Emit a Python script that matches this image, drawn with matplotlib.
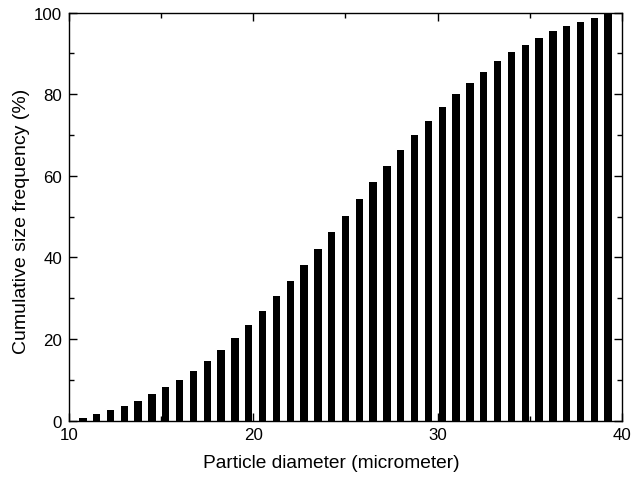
import numpy as np
import matplotlib
matplotlib.use("Agg")
import matplotlib.pyplot as plt
from matplotlib.ticker import MultipleLocator

# particle diameter bins (micrometer) and cumulative frequency (%)
diameter = [10.75, 11.5, 12.25, 13.0, 13.75, 14.5, 15.25, 16.0, 16.75, 17.5,
            18.25, 19.0, 19.75, 20.5, 21.25, 22.0, 22.75, 23.5, 24.25, 25.0,
            25.75, 26.5, 27.25, 28.0, 28.75, 29.5, 30.25, 31.0, 31.75, 32.5,
            33.25, 34.0, 34.75, 35.5, 36.25, 37.0, 37.75, 38.5, 39.25]
cum_freq = [0.5, 1.5, 2.5, 3.6, 4.9, 6.4, 8.2, 10.0, 12.2, 14.6,
            17.3, 20.1, 23.5, 26.8, 30.4, 34.2, 38.0, 42.0, 46.1, 50.2,
            54.3, 58.4, 62.4, 66.2, 70.0, 73.5, 76.9, 80.0, 82.7, 85.4,
            88.0, 90.2, 92.1, 93.8, 95.4, 96.6, 97.7, 98.6, 99.6]

plt.rcParams['font.family'] = ['Liberation Sans', 'DejaVu Sans']

fig = plt.figure(figsize=(6.33, 4.81), dpi=100)
ax = fig.add_axes([0.109, 0.1237, 0.8736, 0.8482])

ax.bar(diameter, cum_freq, width=0.4, color='black', edgecolor='black', linewidth=0)

ax.set_xlim(10, 40)
ax.set_ylim(0, 100)
ax.xaxis.set_major_locator(MultipleLocator(10))
ax.xaxis.set_minor_locator(MultipleLocator(5))
ax.yaxis.set_major_locator(MultipleLocator(20))
ax.yaxis.set_minor_locator(MultipleLocator(10))
ax.tick_params(which='both', direction='in', top=True, right=True,
               labelsize=12.2, width=1, colors='black')
ax.tick_params(which='major', length=6)
ax.tick_params(which='minor', length=3.5)
ax.tick_params(axis='x', which='major', pad=5)
ax.tick_params(axis='y', which='major', pad=5)
for s in ax.spines.values():
    s.set_linewidth(1)

ax.set_xlabel("Particle diameter (micrometer)", fontsize=13.8, labelpad=8, x=0.475)
ax.set_ylabel("Cumulative size frequency (%)", fontsize=14, labelpad=3, y=0.49)

fig.savefig("out.png", dpi=100)
